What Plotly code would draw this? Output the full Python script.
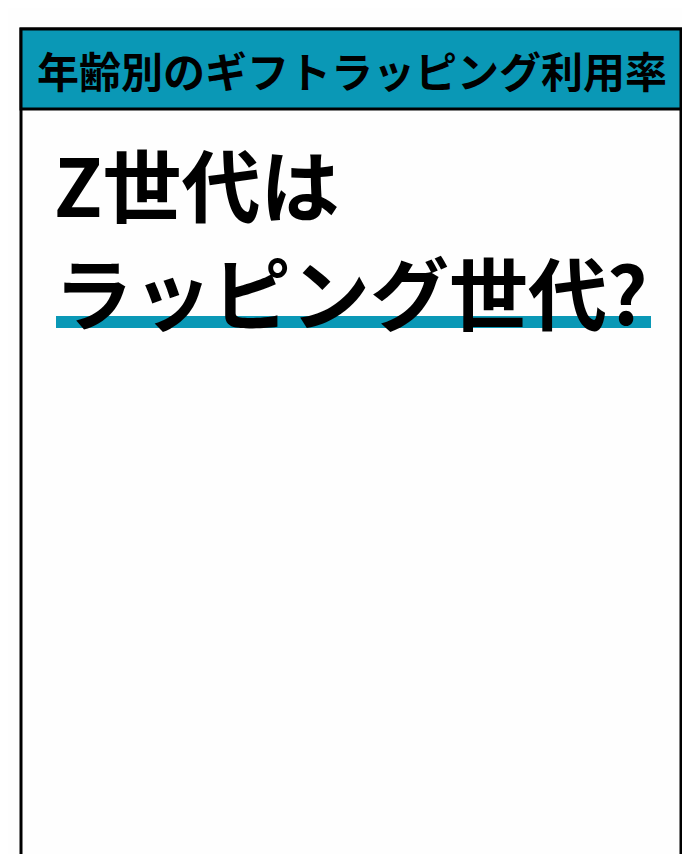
import plotly.graph_objects as go

# texts
header_text = "年齢別のギフトラッピング利用率"
title_lines = ["Z世代は", "ラッピング世代?"]

TEAL = "#0a98b6"
FONT = "Noto Sans CJK JP"
W, H = 690, 862
OFF = 8  # page body margin

fig = go.Figure()

# outer frame (bottom edge runs off the page)
fig.add_shape(type="rect", x0=21, x1=681, y0=29, y1=H + 20,
              line=dict(color="#000", width=3), fillcolor="#fefefe", layer="below")
# header bar
fig.add_shape(type="rect", x0=21, x1=681, y0=29, y1=109,
              line=dict(color="#000", width=3), fillcolor=TEAL, layer="below")
# underline under second title line
fig.add_shape(type="rect", x0=56, x1=651, y0=316, y1=328,
              line=dict(width=0), fillcolor=TEAL, layer="below")

fig.add_annotation(x=352, y=69, text=header_text, showarrow=False,
                   xanchor="center", yanchor="middle",
                   font=dict(family=FONT, size=42, color="#000", weight="bold"))

for line, yc in zip(title_lines, [182, 290]):
    fig.add_annotation(x=52, y=yc, text=line, showarrow=False,
                       xanchor="left", yanchor="middle",
                       font=dict(family=FONT, size=79, color="#000", weight="bold"))

fig.update_layout(
    width=W - OFF, height=H - 2 * OFF,
    margin=dict(l=0, r=0, t=0, b=0),
    paper_bgcolor="#fefefe",
    plot_bgcolor="#fefefe",
    showlegend=False,
    xaxis=dict(range=[OFF, W], visible=False, fixedrange=True),
    yaxis=dict(range=[H - OFF, OFF], visible=False, fixedrange=True),
)

fig.write_html("out.html", config={"displayModeBar": False})
